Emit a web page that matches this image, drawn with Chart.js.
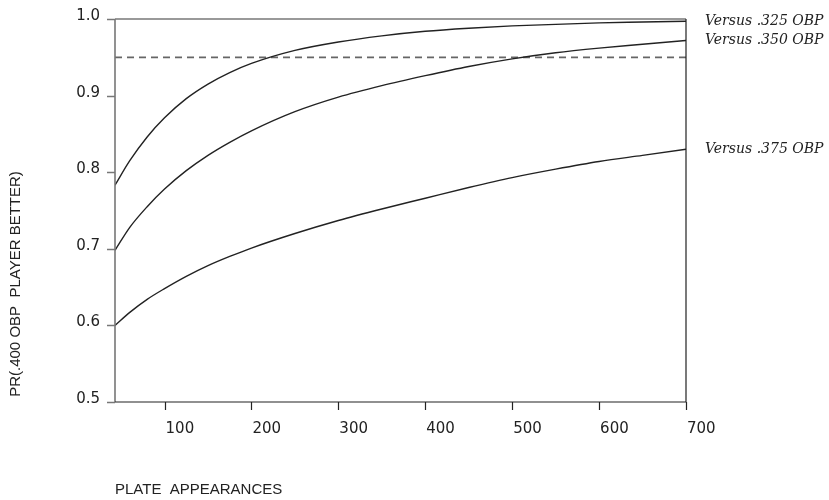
<!DOCTYPE html>
<html>
<head>
<meta charset="utf-8">
<script src="https://cdn.jsdelivr.net/npm/chart.js@4"></script>
<style>
  html, body { margin: 0; padding: 0; background: #fff; }
  canvas { display: block; }
</style>
</head>
<body>
<canvas id="mainChart" width="829" height="500"></canvas>
<script>
// Plate appearances (x) and probability that the .400 OBP player is better
const plateAppearances = [43, 60, 80, 100, 125, 150, 175, 200, 250, 300, 350, 400, 450, 500, 550, 600, 650, 700];
const vs325 = [0.783, 0.815, 0.846, 0.871, 0.896, 0.915, 0.930, 0.942, 0.959, 0.970, 0.978, 0.984, 0.988, 0.991, 0.993, 0.995, 0.996, 0.997];
const vs350 = [0.698, 0.728, 0.755, 0.778, 0.802, 0.822, 0.839, 0.854, 0.879, 0.898, 0.913, 0.926, 0.938, 0.948, 0.956, 0.962, 0.967, 0.972];
const vs375 = [0.600, 0.617, 0.634, 0.648, 0.664, 0.678, 0.690, 0.701, 0.720, 0.737, 0.752, 0.766, 0.780, 0.793, 0.804, 0.814, 0.822, 0.830];
const seriesLabels = ['Versus .325 OBP', 'Versus .350 OBP', 'Versus .375 OBP'];
const threshold = 0.95;

const xTicks = [100, 200, 300, 400, 500, 600, 700];
const yTicks = [0.5, 0.6, 0.7, 0.8, 0.9, 1.0];
const xTitle = 'PLATE  APPEARANCES';
const yTitle = 'PR(.400 OBP  PLAYER BETTER)';

const toPoints = vals => vals.map((v, i) => ({ x: plateAppearances[i], y: v }));

function curve(vals, label) {
    return {
        label: label,
        data: toPoints(vals),
        borderColor: '#222',
        borderWidth: 1.4,
        pointRadius: 0,
        cubicInterpolationMode: 'monotone',
        fill: false
    };
}

// Draw axes, ticks, titles and end labels by hand to match the print style
const framePlugin = {
    id: 'frame',
    afterDatasetsDraw(chart) {
        const ctx = chart.ctx;
        const xs = chart.scales.x;
        const ys = chart.scales.y;
        const area = chart.chartArea;
        ctx.save();

        // left axis + y ticks (grey)
        ctx.strokeStyle = '#777';
        ctx.lineWidth = 1.6;
        ctx.beginPath();
        ctx.moveTo(area.left, area.top);
        ctx.lineTo(area.left, area.bottom);
        yTicks.forEach(t => {
            const y = Math.round(ys.getPixelForValue(t)) + 0.5;
            ctx.moveTo(area.left - 8, y);
            ctx.lineTo(area.left, y);
        });
        ctx.stroke();

        // top border
        ctx.beginPath();
        ctx.moveTo(area.left, area.top);
        ctx.lineTo(area.right, area.top);
        ctx.stroke();

        // bottom axis and right border (dark)
        ctx.strokeStyle = '#222';
        ctx.lineWidth = 1.2;
        ctx.beginPath();
        ctx.moveTo(area.left, area.bottom);
        ctx.lineTo(area.right, area.bottom);
        ctx.moveTo(area.right, area.top);
        ctx.lineTo(area.right, area.bottom);
        xTicks.forEach(t => {
            const x = Math.round(xs.getPixelForValue(t)) + 0.5;
            ctx.moveTo(x, area.bottom);
            ctx.lineTo(x, area.bottom + 8);
        });
        ctx.stroke();

        // tick labels
        ctx.fillStyle = '#222';
        ctx.font = '15px "DejaVu Sans"';
        ctx.textAlign = 'right';
        ctx.textBaseline = 'alphabetic';
        yTicks.forEach(t => {
            ctx.fillText(t.toFixed(1), area.left - 15, ys.getPixelForValue(t) + 1);
        });
        ctx.textAlign = 'left';
        ctx.textBaseline = 'middle';
        xTicks.forEach(t => {
            ctx.fillText(String(t), xs.getPixelForValue(t) + 1, area.bottom + 27);
        });

        // axis titles
        ctx.font = '15px "Liberation Sans"';
        ctx.textAlign = 'left';
        ctx.fillText(xTitle, area.left, 490);
        ctx.save();
        ctx.translate(16, 284);
        ctx.rotate(-Math.PI / 2);
        ctx.textAlign = 'center';
        ctx.fillText(yTitle, 0, 0);
        ctx.restore();

        // end-of-line labels
        ctx.font = 'italic 14px "DejaVu Serif"';
        ctx.textAlign = 'left';
        ctx.textBaseline = 'middle';
        [vs325, vs350, vs375].forEach((vals, i) => {
            const y = ys.getPixelForValue(vals[vals.length - 1]);
            ctx.fillText(seriesLabels[i], area.right + 19, y);
        });
        ctx.restore();
    }
};

new Chart(document.getElementById('mainChart').getContext('2d'), {
    type: 'line',
    data: {
        datasets: [
            curve(vs325, seriesLabels[0]),
            curve(vs350, seriesLabels[1]),
            curve(vs375, seriesLabels[2]),
            {
                label: 'threshold',
                data: [{ x: plateAppearances[0], y: threshold }, { x: 700, y: threshold }],
                borderColor: '#666',
                borderWidth: 1.8,
                borderDash: [7, 5],
                pointRadius: 0,
                fill: false
            }
        ]
    },
    options: {
        responsive: false,
        animation: false,
        layout: {
            padding: { left: 115, right: 143, top: 19, bottom: 98 }
        },
        scales: {
            x: { type: 'linear', min: 43, max: 700, display: false },
            y: { min: 0.5, max: 1.0, display: false }
        },
        plugins: {
            legend: { display: false },
            tooltip: { enabled: false }
        }
    },
    plugins: [framePlugin]
});
</script>
</body>
</html>
